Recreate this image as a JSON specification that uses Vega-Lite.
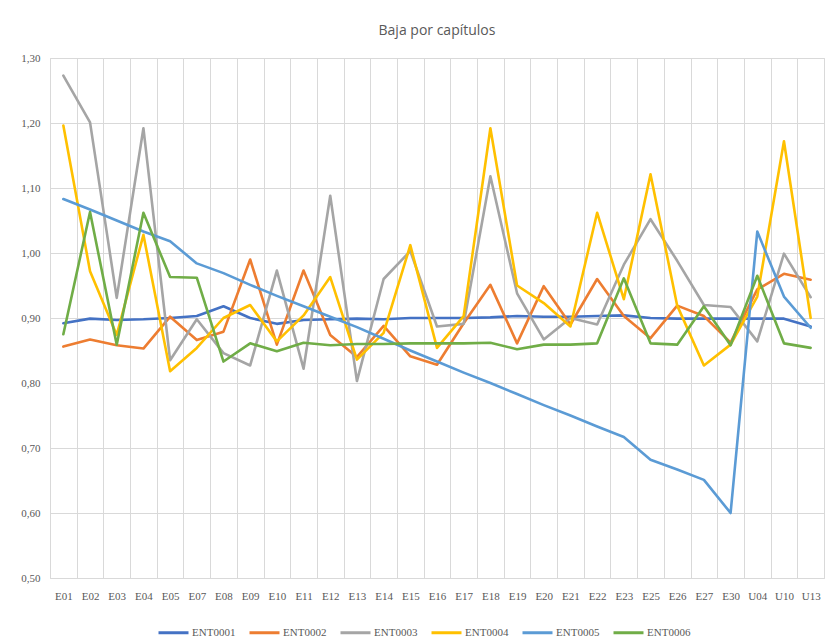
{
  "$schema": "https://vega.github.io/schema/vega-lite/v6.json",
  "width": 774,
  "height": 520,
  "autosize": {"type": "none"},
  "padding": {"left": 50, "top": 58, "right": 5, "bottom": 61},
  "background": "white",
  "config": {
    "locale": {"number": {"decimal": ",", "thousands": ".", "grouping": [3], "currency": ["", " €"]}},
    "font": "Liberation Sans Narrow",
    "view": {"stroke": "#d9d9d9", "strokeWidth": 1}
  },
  "title": {"text": "Baja por capítulos", "fontSize": 14, "fontWeight": "normal", "color": "#595959", "font": "Open Sans", "offset": 14},
  "datasets": {
    "rows": [
      {"cat":"E01","series":"ENT0001","value":0.892},{"cat":"E02","series":"ENT0001","value":0.899},{"cat":"E03","series":"ENT0001","value":0.897},{"cat":"E04","series":"ENT0001","value":0.898},{"cat":"E05","series":"ENT0001","value":0.900},{"cat":"E07","series":"ENT0001","value":0.903},{"cat":"E08","series":"ENT0001","value":0.918},{"cat":"E09","series":"ENT0001","value":0.900},{"cat":"E10","series":"ENT0001","value":0.891},{"cat":"E11","series":"ENT0001","value":0.897},{"cat":"E12","series":"ENT0001","value":0.898},{"cat":"E13","series":"ENT0001","value":0.899},{"cat":"E14","series":"ENT0001","value":0.898},{"cat":"E15","series":"ENT0001","value":0.900},{"cat":"E16","series":"ENT0001","value":0.900},{"cat":"E17","series":"ENT0001","value":0.900},{"cat":"E18","series":"ENT0001","value":0.901},{"cat":"E19","series":"ENT0001","value":0.903},{"cat":"E20","series":"ENT0001","value":0.902},{"cat":"E21","series":"ENT0001","value":0.902},{"cat":"E22","series":"ENT0001","value":0.903},{"cat":"E23","series":"ENT0001","value":0.904},{"cat":"E25","series":"ENT0001","value":0.900},{"cat":"E26","series":"ENT0001","value":0.899},{"cat":"E27","series":"ENT0001","value":0.899},{"cat":"E30","series":"ENT0001","value":0.899},{"cat":"U04","series":"ENT0001","value":0.899},{"cat":"U10","series":"ENT0001","value":0.899},{"cat":"U13","series":"ENT0001","value":0.887},
      {"cat":"E01","series":"ENT0002","value":0.856},{"cat":"E02","series":"ENT0002","value":0.867},{"cat":"E03","series":"ENT0002","value":0.858},{"cat":"E04","series":"ENT0002","value":0.853},{"cat":"E05","series":"ENT0002","value":0.902},{"cat":"E07","series":"ENT0002","value":0.866},{"cat":"E08","series":"ENT0002","value":0.879},{"cat":"E09","series":"ENT0002","value":0.990},{"cat":"E10","series":"ENT0002","value":0.859},{"cat":"E11","series":"ENT0002","value":0.973},{"cat":"E12","series":"ENT0002","value":0.874},{"cat":"E13","series":"ENT0002","value":0.840},{"cat":"E14","series":"ENT0002","value":0.888},{"cat":"E15","series":"ENT0002","value":0.841},{"cat":"E16","series":"ENT0002","value":0.828},{"cat":"E17","series":"ENT0002","value":0.892},{"cat":"E18","series":"ENT0002","value":0.951},{"cat":"E19","series":"ENT0002","value":0.861},{"cat":"E20","series":"ENT0002","value":0.949},{"cat":"E21","series":"ENT0002","value":0.890},{"cat":"E22","series":"ENT0002","value":0.960},{"cat":"E23","series":"ENT0002","value":0.903},{"cat":"E25","series":"ENT0002","value":0.869},{"cat":"E26","series":"ENT0002","value":0.919},{"cat":"E27","series":"ENT0002","value":0.903},{"cat":"E30","series":"ENT0002","value":0.862},{"cat":"U04","series":"ENT0002","value":0.944},{"cat":"U10","series":"ENT0002","value":0.968},{"cat":"U13","series":"ENT0002","value":0.959},
      {"cat":"E01","series":"ENT0003","value":1.273},{"cat":"E02","series":"ENT0003","value":1.201},{"cat":"E03","series":"ENT0003","value":0.931},{"cat":"E04","series":"ENT0003","value":1.192},{"cat":"E05","series":"ENT0003","value":0.835},{"cat":"E07","series":"ENT0003","value":0.898},{"cat":"E08","series":"ENT0003","value":0.846},{"cat":"E09","series":"ENT0003","value":0.827},{"cat":"E10","series":"ENT0003","value":0.973},{"cat":"E11","series":"ENT0003","value":0.822},{"cat":"E12","series":"ENT0003","value":1.088},{"cat":"E13","series":"ENT0003","value":0.803},{"cat":"E14","series":"ENT0003","value":0.960},{"cat":"E15","series":"ENT0003","value":1.003},{"cat":"E16","series":"ENT0003","value":0.887},{"cat":"E17","series":"ENT0003","value":0.891},{"cat":"E18","series":"ENT0003","value":1.118},{"cat":"E19","series":"ENT0003","value":0.938},{"cat":"E20","series":"ENT0003","value":0.867},{"cat":"E21","series":"ENT0003","value":0.900},{"cat":"E22","series":"ENT0003","value":0.890},{"cat":"E23","series":"ENT0003","value":0.982},{"cat":"E25","series":"ENT0003","value":1.052},{"cat":"E26","series":"ENT0003","value":0.988},{"cat":"E27","series":"ENT0003","value":0.920},{"cat":"E30","series":"ENT0003","value":0.917},{"cat":"U04","series":"ENT0003","value":0.864},{"cat":"U10","series":"ENT0003","value":0.999},{"cat":"U13","series":"ENT0003","value":0.932},
      {"cat":"E01","series":"ENT0004","value":1.196},{"cat":"E02","series":"ENT0004","value":0.972},{"cat":"E03","series":"ENT0004","value":0.874},{"cat":"E04","series":"ENT0004","value":1.028},{"cat":"E05","series":"ENT0004","value":0.818},{"cat":"E07","series":"ENT0004","value":0.854},{"cat":"E08","series":"ENT0004","value":0.900},{"cat":"E09","series":"ENT0004","value":0.920},{"cat":"E10","series":"ENT0004","value":0.864},{"cat":"E11","series":"ENT0004","value":0.904},{"cat":"E12","series":"ENT0004","value":0.963},{"cat":"E13","series":"ENT0004","value":0.836},{"cat":"E14","series":"ENT0004","value":0.877},{"cat":"E15","series":"ENT0004","value":1.012},{"cat":"E16","series":"ENT0004","value":0.854},{"cat":"E17","series":"ENT0004","value":0.903},{"cat":"E18","series":"ENT0004","value":1.192},{"cat":"E19","series":"ENT0004","value":0.950},{"cat":"E20","series":"ENT0004","value":0.923},{"cat":"E21","series":"ENT0004","value":0.887},{"cat":"E22","series":"ENT0004","value":1.062},{"cat":"E23","series":"ENT0004","value":0.929},{"cat":"E25","series":"ENT0004","value":1.121},{"cat":"E26","series":"ENT0004","value":0.919},{"cat":"E27","series":"ENT0004","value":0.827},{"cat":"E30","series":"ENT0004","value":0.859},{"cat":"U04","series":"ENT0004","value":0.933},{"cat":"U10","series":"ENT0004","value":1.172},{"cat":"U13","series":"ENT0004","value":0.900},
      {"cat":"E01","series":"ENT0005","value":1.083},{"cat":"E02","series":"ENT0005","value":1.067},{"cat":"E03","series":"ENT0005","value":1.050},{"cat":"E04","series":"ENT0005","value":1.033},{"cat":"E05","series":"ENT0005","value":1.018},{"cat":"E07","series":"ENT0005","value":0.984},{"cat":"E08","series":"ENT0005","value":0.969},{"cat":"E09","series":"ENT0005","value":0.951},{"cat":"E10","series":"ENT0005","value":0.934},{"cat":"E11","series":"ENT0005","value":0.918},{"cat":"E12","series":"ENT0005","value":0.902},{"cat":"E13","series":"ENT0005","value":0.886},{"cat":"E14","series":"ENT0005","value":0.868},{"cat":"E15","series":"ENT0005","value":0.850},{"cat":"E16","series":"ENT0005","value":0.833},{"cat":"E17","series":"ENT0005","value":0.816},{"cat":"E18","series":"ENT0005","value":0.800},{"cat":"E19","series":"ENT0005","value":0.783},{"cat":"E20","series":"ENT0005","value":0.766},{"cat":"E21","series":"ENT0005","value":0.750},{"cat":"E22","series":"ENT0005","value":0.733},{"cat":"E23","series":"ENT0005","value":0.717},{"cat":"E25","series":"ENT0005","value":0.682},{"cat":"E26","series":"ENT0005","value":0.667},{"cat":"E27","series":"ENT0005","value":0.651},{"cat":"E30","series":"ENT0005","value":0.600},{"cat":"U04","series":"ENT0005","value":1.033},{"cat":"U10","series":"ENT0005","value":0.933},{"cat":"U13","series":"ENT0005","value":0.885},
      {"cat":"E01","series":"ENT0006","value":0.875},{"cat":"E02","series":"ENT0006","value":1.063},{"cat":"E03","series":"ENT0006","value":0.859},{"cat":"E04","series":"ENT0006","value":1.062},{"cat":"E05","series":"ENT0006","value":0.963},{"cat":"E07","series":"ENT0006","value":0.962},{"cat":"E08","series":"ENT0006","value":0.833},{"cat":"E09","series":"ENT0006","value":0.861},{"cat":"E10","series":"ENT0006","value":0.849},{"cat":"E11","series":"ENT0006","value":0.862},{"cat":"E12","series":"ENT0006","value":0.858},{"cat":"E13","series":"ENT0006","value":0.860},{"cat":"E14","series":"ENT0006","value":0.860},{"cat":"E15","series":"ENT0006","value":0.861},{"cat":"E16","series":"ENT0006","value":0.861},{"cat":"E17","series":"ENT0006","value":0.861},{"cat":"E18","series":"ENT0006","value":0.862},{"cat":"E19","series":"ENT0006","value":0.852},{"cat":"E20","series":"ENT0006","value":0.859},{"cat":"E21","series":"ENT0006","value":0.859},{"cat":"E22","series":"ENT0006","value":0.861},{"cat":"E23","series":"ENT0006","value":0.961},{"cat":"E25","series":"ENT0006","value":0.861},{"cat":"E26","series":"ENT0006","value":0.859},{"cat":"E27","series":"ENT0006","value":0.918},{"cat":"E30","series":"ENT0006","value":0.858},{"cat":"U04","series":"ENT0006","value":0.965},{"cat":"U10","series":"ENT0006","value":0.861},{"cat":"U13","series":"ENT0006","value":0.854}
    ]
  },
  "data": {"name": "rows"},
  "mark": {"type": "line", "strokeWidth": 2.6, "strokeJoin": "round", "strokeCap": "round"},
  "encoding": {
    "x": {
      "field": "cat", "type": "nominal", "sort": null, "title": null,
      "scale": {"type": "band", "paddingInner": 0, "paddingOuter": 0},
      "axis": {"tickBand": "extent", "grid": true, "gridColor": "#d9d9d9", "ticks": false, "domain": false, "labelAngle": 0, "labelColor": "#595959", "labelFontSize": 11, "labelPadding": 12}
    },
    "y": {
      "field": "value", "type": "quantitative", "title": null,
      "scale": {"domain": [0.5, 1.3], "nice": false, "zero": false},
      "axis": {"values": [0.5, 0.6, 0.7, 0.8, 0.9, 1.0, 1.1, 1.2, 1.3], "format": ".2f", "grid": true, "gridColor": "#d9d9d9", "ticks": false, "domain": false, "labelColor": "#595959", "labelFontSize": 11, "labelPadding": 10}
    },
    "color": {
      "field": "series", "type": "nominal", "title": null,
      "scale": {"domain": ["ENT0001", "ENT0002", "ENT0003", "ENT0004", "ENT0005", "ENT0006"], "range": ["#4472C4", "#ED7D31", "#A5A5A5", "#FFC000", "#5B9BD5", "#70AD47"]},
      "legend": {"orient": "none", "legendX": 107, "legendY": 558, "direction": "horizontal", "symbolType": "stroke", "symbolStrokeWidth": 3, "symbolSize": 900, "labelColor": "#595959", "labelFontSize": 11, "labelOffset": 2, "columnPadding": 7}
    }
  }
}
